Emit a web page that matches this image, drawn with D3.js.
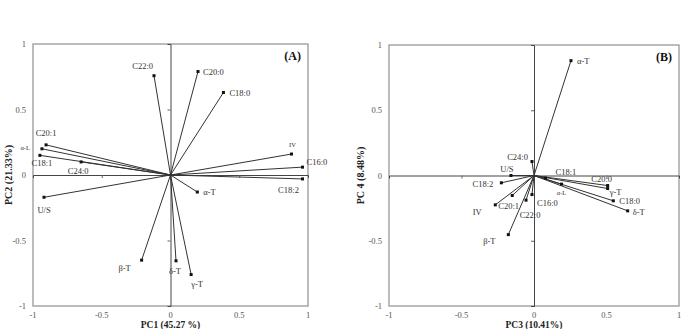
<!DOCTYPE html>
<html>
<head>
<meta charset="utf-8">
<script src="https://cdn.jsdelivr.net/npm/d3@7"></script>
<style>
  body { margin: 0; background: #fff; }
  svg text { font-family: "Liberation Serif", "Times New Roman", serif; }
</style>
</head>
<body>
<div class="chart-container"></div>
<script>
//! DATA
const labelsA = ['C22:0', 'C20:0', 'C18:0', 'C20:1', 'α-L', 'C18:1', 'C24:0', 'IV', 'C16:0', 'C18:2', 'α-T', 'U/S', 'β-T', 'δ-T', 'γ-T'];
const pc1 = [-0.12, 0.20, 0.385, -0.905, -0.935, -0.95, -0.65, 0.88, 0.96, 0.96, 0.195, -0.92, -0.21, 0.04, 0.15];
const pc2 = [0.758, 0.79, 0.63, 0.23, 0.20, 0.15, 0.10, 0.16, 0.06, -0.03, -0.13, -0.17, -0.65, -0.655, -0.76];

const labelsB = ['α-T', 'C24:0', 'U/S', 'C18:2', 'C20:1', 'IV', 'β-T', 'C22:0', 'C16:0', 'α-L', 'C18:1', 'C20:0', 'γ-T', 'C18:0', 'δ-T'];
const pc3 = [0.255, -0.014, -0.159, -0.225, -0.267, -0.15, -0.177, -0.055, -0.014, 0.19, 0.08, 0.508, 0.508, 0.547, 0.646];
const pc4 = [0.88, 0.107, 0.0, -0.056, -0.225, -0.153, -0.453, -0.189, -0.146, -0.066, -0.02, -0.077, -0.10, -0.194, -0.271];

const tickValues = [-1, -0.5, 0, 0.5, 1];

// label placement (dx, dy, anchor, small)
const placeA = [
  [-1, -10, 'end'], [5, 0, 'start'], [6, 1, 'start'], [0, -12, 'middle'], [-12, -2, 'end', 1],
  [2, 8, 'middle'], [-3, 9, 'middle'], [1, -10, 'middle', 1], [4, -5, 'start'], [-14, 11, 'middle'],
  [6, 0, 'start'], [0, 13, 'middle'], [-17, 8, 'middle'], [-1, 10, 'middle'], [6, 9, 'middle']
];
const placeB = [
  [6, 0, 'start'], [-4, -5, 'end'], [-4, -7, 'middle'], [-8, 1, 'end'], [3, 1, 'start'],
  [-35, 17, 'middle'], [-19, 6, 'middle'], [4, 15, 'middle'], [5, 8, 'start'], [0, 8, 'middle', 1],
  [10, -6, 'start'], [-6, -7, 'middle'], [2, 3, 'start'], [6, 0, 'start'], [5, 1, 'start']
];

const svg = d3.select('.chart-container')
  .append('svg')
  .attr('width', 686)
  .attr('height', 329);

function panel(opts) {
  const x = d3.scaleLinear().domain([-1, 1]).range([opts.left, opts.right]);
  const y = d3.scaleLinear().domain([-1, 1]).range([opts.bottom, opts.top]);
  const g = svg.append('g');

  // frame
  g.append('rect')
    .attr('x', opts.left).attr('y', opts.top)
    .attr('width', opts.right - opts.left).attr('height', opts.bottom - opts.top)
    .attr('fill', 'none').attr('stroke', '#999').attr('stroke-width', 1.3);

  // zero axes with ticks
  const ax = g.append('g').attr('transform', `translate(0,${y(0)})`)
    .call(d3.axisBottom(x).tickValues([-0.5, 0.5]).tickSize(3).tickFormat(''));
  const ay = g.append('g').attr('transform', `translate(${x(0)},0)`)
    .call(d3.axisLeft(y).tickValues([-0.5, 0.5]).tickSize(3).tickFormat(''));
  [ax, ay].forEach(a => {
    a.select('.domain').attr('stroke', '#444').attr('stroke-width', 1);
    a.selectAll('.tick line').attr('stroke', '#666');
  });

  // tick labels on the frame
  g.selectAll('.xl').data(tickValues).enter().append('text')
    .attr('x', d => x(d)).attr('y', opts.bottom + 12)
    .attr('text-anchor', 'middle').attr('font-size', 8.5).attr('fill', '#555')
    .text(d => d);
  g.selectAll('.yl').data(tickValues).enter().append('text')
    .attr('x', opts.left - 7).attr('y', d => y(d) + 3)
    .attr('text-anchor', 'end').attr('font-size', 8.5).attr('fill', '#555')
    .text(d => d);

  // axis titles
  g.append('text')
    .attr('x', (opts.left + opts.right) / 2).attr('y', opts.bottom + 22)
    .attr('text-anchor', 'middle').attr('font-size', 9.5).attr('font-weight', 'bold').attr('fill', '#222')
    .text(opts.xTitle);
  g.append('text')
    .attr('transform', `translate(${opts.yTitleX},${y(0)}) rotate(-90)`)
    .attr('text-anchor', 'middle').attr('font-size', 10).attr('font-weight', 'bold').attr('fill', '#222')
    .text(opts.yTitle);

  // panel tag
  g.append('text')
    .attr('x', opts.right - 7).attr('y', opts.top + 16)
    .attr('text-anchor', 'end').attr('font-size', 12).attr('font-weight', 'bold').attr('fill', '#111')
    .text(opts.tag);

  const data = opts.labels.map((l, i) => ({ l, vx: opts.xs[i], vy: opts.ys[i], p: opts.place[i] }));

  // loading vectors
  g.selectAll('.vec').data(data).enter().append('line')
    .attr('x1', x(0)).attr('y1', y(0))
    .attr('x2', d => x(d.vx)).attr('y2', d => y(d.vy))
    .attr('stroke', '#333').attr('stroke-width', 1);
  g.selectAll('.pt').data(data).enter().append('rect')
    .attr('x', d => x(d.vx) - 1.5).attr('y', d => y(d.vy) - 1.5)
    .attr('width', 3).attr('height', 3).attr('fill', '#111');
  g.selectAll('.lab').data(data).enter().append('text')
    .attr('x', d => x(d.vx) + d.p[0]).attr('y', d => y(d.vy) + d.p[1] + 3)
    .attr('text-anchor', d => d.p[2])
    .attr('font-size', d => d.p[3] ? 6.5 : 8.5)
    .attr('fill', '#333')
    .text(d => d.l);
}

panel({
  left: 33, right: 308, top: 44, bottom: 306,
  labels: labelsA, xs: pc1, ys: pc2, place: placeA,
  xTitle: 'PC1 (45.27 %)', yTitle: 'PC2 (21.33%)', yTitleX: 12, tag: '(A)'
});
panel({
  left: 389, right: 679, top: 45, bottom: 306,
  labels: labelsB, xs: pc3, ys: pc4, place: placeB,
  xTitle: 'PC3 (10.41%)', yTitle: 'PC 4 (8.48%)', yTitleX: 364, tag: '(B)'
});
</script>
</body>
</html>
